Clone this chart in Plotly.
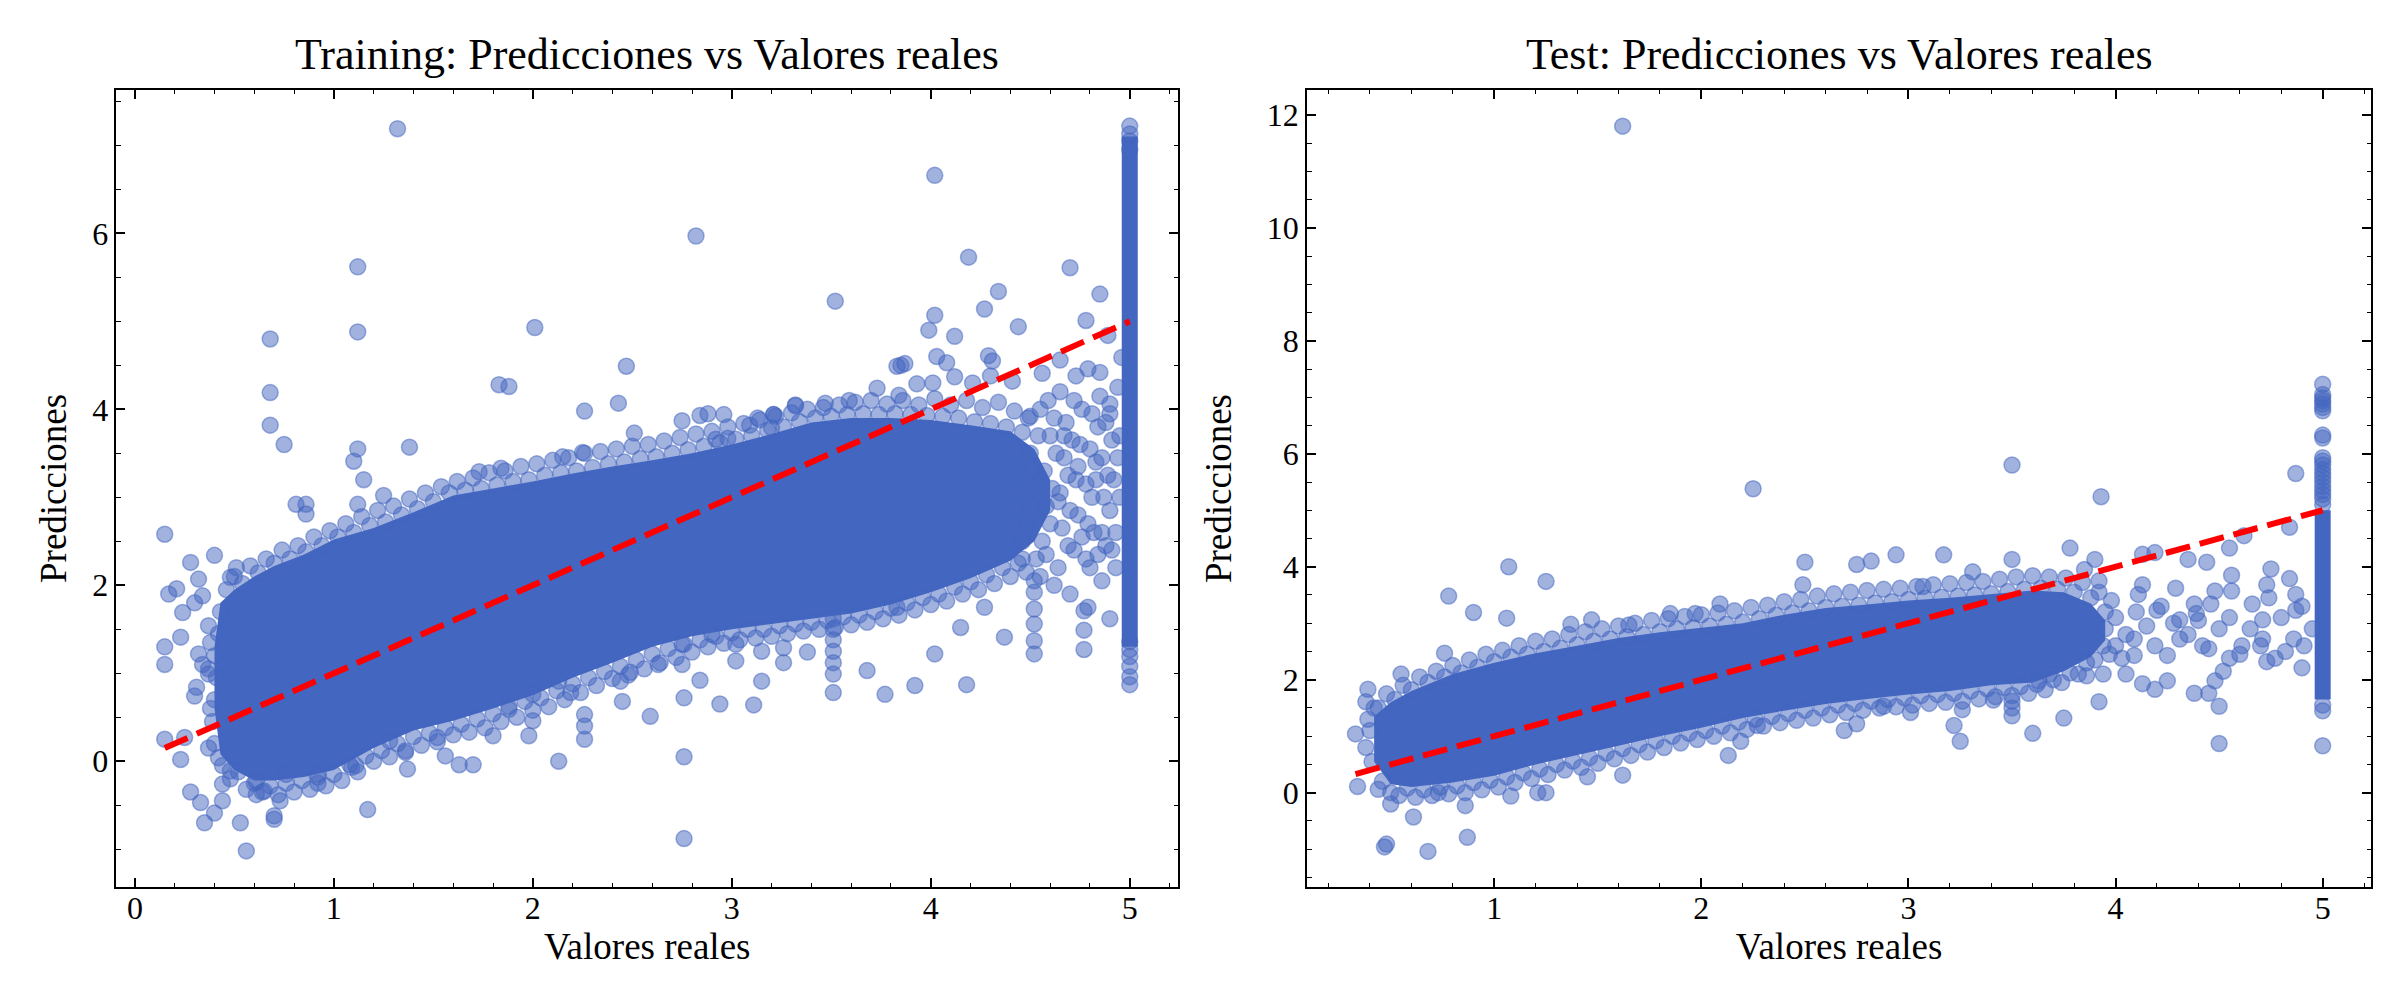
import plotly.graph_objects as go

BLUE = "#4366c0"
BLUE_A = "rgba(67,102,192,0.5)"
FONT = "Liberation Serif"

# ---------------- Training: values ----------------
# dense core of the cloud (where the overlapping points turn solid)
train_band_x = [0.40, 0.43, 0.50, 0.60, 0.70, 0.85, 1.00, 1.20, 1.40, 1.60, 1.80, 2.00, 2.20,
                2.40, 2.60, 2.80, 3.00, 3.20, 3.40, 3.60, 3.80, 4.00, 4.20, 4.40, 4.52, 4.60]
train_band_hi = [1.30, 1.80, 1.95, 2.10, 2.22, 2.35, 2.52, 2.65, 2.83, 3.02, 3.10, 3.18, 3.27,
                 3.35, 3.42, 3.50, 3.60, 3.72, 3.85, 3.90, 3.90, 3.88, 3.82, 3.75, 3.55, 3.20]
train_band_lo = [0.60, 0.08, -0.10, -0.22, -0.22, -0.18, -0.10, 0.15, 0.35, 0.46, 0.60, 0.75, 0.95,
                 1.12, 1.30, 1.42, 1.50, 1.56, 1.62, 1.68, 1.78, 1.92, 2.08, 2.28, 2.50, 2.85]

train_outliers = [
    (1.32, 7.19), (4.02, 6.66), (2.82, 5.97), (4.19, 5.73), (1.12, 5.62), (4.70, 5.61),
    (4.34, 5.34), (4.85, 5.31), (3.52, 5.23), (4.27, 5.14), (4.02, 5.07), (4.78, 5.01),
    (4.44, 4.94), (2.01, 4.93), (3.99, 4.90), (1.12, 4.88), (4.89, 4.84), (4.12, 4.83),
    (0.68, 4.80), (4.03, 4.60), (4.96, 4.59), (4.29, 4.61), (4.31, 4.55), (4.08, 4.53),
    (3.85, 4.50), (3.87, 4.52), (3.83, 4.49), (2.47, 4.49), (1.83, 4.28), (1.88, 4.26),
    (0.68, 4.19), (2.43, 4.07), (2.26, 3.98), (0.68, 3.82), (0.75, 3.60), (1.38, 3.57),
    (1.12, 3.55), (1.10, 3.41), (1.15, 3.20), (1.25, 3.02), (2.84, 3.93), (2.96, 3.94),
    (3.21, 3.94), (3.32, 4.04), (2.51, 3.73), (1.73, 3.29), (1.84, 3.33), (2.15, 3.46),
    (2.25, 3.51), (2.75, 3.87), (0.81, 2.92), (0.86, 2.92), (1.12, 2.92),
    (3.73, 4.24), (3.93, 4.29), (3.84, 4.16), (4.01, 4.30), (4.12, 4.37), (4.21, 4.30),
    (4.30, 4.38), (4.41, 4.32), (4.56, 4.41), (4.65, 4.56), (4.73, 4.38), (4.79, 4.46),
    (4.85, 4.42), (4.94, 4.25), (4.90, 4.06), (3.47, 4.07), (3.59, 4.10), (3.32, 4.05),
    (3.21, 3.94), (3.13, 3.90), (3.09, 3.82), (3.20, 3.79), (2.88, 3.95), (2.98, 3.67),
    (2.92, 3.66),
]
train_upper_ring = [
    (0.46, 1.95), (0.50, 2.10), (0.54, 2.02), (0.58, 2.22), (0.62, 2.14), (0.66, 2.30),
    (0.70, 2.25), (0.74, 2.40), (0.78, 2.30), (0.82, 2.45), (0.86, 2.38), (0.90, 2.55),
    (0.94, 2.45), (0.98, 2.62), (1.02, 2.55), (1.06, 2.70), (1.10, 2.60), (1.14, 2.78),
    (1.18, 2.68), (1.22, 2.85), (1.26, 2.72), (1.30, 2.90), (1.34, 2.80), (1.38, 2.98),
    (1.42, 2.87), (1.46, 3.05), (1.50, 2.95), (1.54, 3.12), (1.58, 3.05), (1.62, 3.18),
    (1.66, 3.08), (1.70, 3.22), (1.74, 3.10), (1.78, 3.28), (1.82, 3.14), (1.86, 3.30),
    (1.90, 3.18), (1.94, 3.35), (1.98, 3.20), (2.02, 3.38), (2.06, 3.25), (2.10, 3.42),
    (2.14, 3.28), (2.18, 3.45), (2.22, 3.30), (2.26, 3.50), (2.30, 3.34), (2.34, 3.52),
    (2.38, 3.38), (2.42, 3.55), (2.46, 3.40), (2.50, 3.58), (2.54, 3.44), (2.58, 3.60),
    (2.62, 3.46), (2.66, 3.64), (2.70, 3.50), (2.74, 3.68), (2.78, 3.54), (2.82, 3.72),
    (2.86, 3.58), (2.90, 3.75), (2.94, 3.62), (2.98, 3.80), (3.02, 3.66), (3.06, 3.84),
    (3.10, 3.70), (3.14, 3.88), (3.18, 3.76), (3.22, 3.92), (3.26, 3.80), (3.30, 3.96),
    (3.34, 3.86), (3.38, 4.00), (3.42, 3.90), (3.46, 4.02), (3.50, 3.92), (3.54, 4.05),
    (3.58, 3.94), (3.62, 4.08), (3.66, 3.95), (3.70, 4.10), (3.74, 3.94), (3.78, 4.06),
    (3.82, 3.95), (3.86, 4.10), (3.90, 3.94), (3.94, 4.05), (3.98, 3.93), (4.02, 4.12),
    (4.06, 3.92), (4.10, 4.05), (4.14, 3.90), (4.18, 4.10), (4.22, 3.86), (4.26, 4.02),
    (4.30, 3.84), (4.34, 4.08), (4.38, 3.80), (4.42, 3.98), (4.46, 3.74), (4.50, 3.92),
]
train_lower_ring = [
    (0.44, -0.05), (0.48, -0.20), (0.52, -0.12), (0.56, -0.32), (0.60, -0.25), (0.64, -0.35),
    (0.68, -0.28), (0.72, -0.38), (0.76, -0.25), (0.80, -0.35), (0.84, -0.22), (0.88, -0.32),
    (0.92, -0.18), (0.96, -0.28), (1.00, -0.15), (1.04, -0.22), (1.08, -0.04), (1.12, -0.12),
    (1.16, 0.06), (1.20, 0.00), (1.24, 0.12), (1.28, 0.05), (1.32, 0.20), (1.36, 0.10),
    (1.40, 0.28), (1.44, 0.18), (1.48, 0.32), (1.52, 0.22), (1.56, 0.38), (1.60, 0.30),
    (1.64, 0.42), (1.68, 0.33), (1.72, 0.48), (1.76, 0.38), (1.80, 0.54), (1.84, 0.45),
    (1.88, 0.62), (1.92, 0.50), (1.96, 0.68), (2.00, 0.58), (2.04, 0.72), (2.08, 0.62),
    (2.12, 0.80), (2.16, 0.70), (2.20, 0.88), (2.24, 0.78), (2.28, 0.95), (2.32, 0.86),
    (2.36, 1.02), (2.40, 0.94), (2.44, 1.08), (2.48, 0.98), (2.52, 1.15), (2.56, 1.05),
    (2.60, 1.22), (2.64, 1.12), (2.68, 1.28), (2.72, 1.18), (2.76, 1.33), (2.80, 1.24),
    (2.84, 1.38), (2.88, 1.30), (2.92, 1.42), (2.96, 1.34), (3.00, 1.46), (3.04, 1.38),
    (3.08, 1.50), (3.12, 1.40), (3.16, 1.50), (3.20, 1.42), (3.24, 1.54), (3.28, 1.45),
    (3.32, 1.56), (3.36, 1.48), (3.40, 1.58), (3.44, 1.50), (3.48, 1.60), (3.52, 1.52),
    (3.56, 1.64), (3.60, 1.55), (3.64, 1.66), (3.68, 1.58), (3.72, 1.70), (3.76, 1.62),
    (3.80, 1.74), (3.84, 1.66), (3.88, 1.80), (3.92, 1.72), (3.96, 1.86), (4.00, 1.78),
    (4.04, 1.90), (4.08, 1.82), (4.12, 1.98), (4.16, 1.90), (4.20, 2.04), (4.24, 1.95),
    (4.28, 2.12), (4.32, 2.02), (4.36, 2.20), (4.40, 2.10), (4.44, 2.25), (4.48, 2.15),
    (0.40, 0.20), (0.39, 0.45), (0.40, 0.70), (0.41, 0.95), (0.40, 1.20), (0.42, 1.45),
    (0.43, 1.70), (0.38, 0.60), (0.37, 1.05), (0.38, 1.35),
]
train_sparse_low = [
    (0.15, 2.58), (0.17, 1.90), (0.21, 1.96), (0.28, 2.26), (0.40, 2.34), (0.15, 1.30),
    (0.15, 1.10), (0.23, 1.41), (0.24, 1.69), (0.30, 1.80), (0.15, 0.25), (0.25, 0.27),
    (0.23, 0.02), (0.28, -0.35), (0.33, -0.47), (0.35, -0.70), (0.40, -0.59), (0.44, -0.45),
    (0.53, -0.70), (0.56, -1.02), (0.70, -0.66), (0.70, -0.62), (0.61, -0.38), (0.73, -0.45),
    (1.17, -0.55), (1.37, -0.09), (0.92, -0.25), (1.09, -0.07), (1.63, -0.04), (1.70, -0.04),
    (2.13, 0.00), (2.76, 0.05), (2.76, -0.88), (2.76, 0.72), (2.94, 0.65), (3.11, 0.64),
    (2.59, 0.51), (2.45, 0.68), (2.26, 0.25), (2.26, 0.40), (2.26, 0.53), (2.00, 0.46),
    (1.98, 0.29), (1.80, 0.29), (1.88, 0.59), (2.84, 0.92), (3.15, 0.91), (3.38, 1.24),
    (3.51, 0.78), (3.68, 1.03), (3.77, 0.76), (3.92, 0.86), (4.18, 0.87), (4.02, 1.22),
    (4.37, 1.41), (4.52, 1.22), (4.52, 1.37), (4.52, 1.56), (4.52, 1.73), (4.52, 1.92),
    (4.77, 1.27), (4.77, 1.49), (4.77, 1.71), (4.90, 1.62), (4.79, 1.75), (4.27, 1.75),
    (4.15, 1.52), (3.83, 1.75), (3.51, 0.99), (3.51, 1.12), (3.51, 1.25), (3.51, 1.38),
    (3.51, 1.50), (3.51, 1.62), (3.26, 1.12), (3.26, 1.29), (3.02, 1.14), (3.02, 1.33),
    (3.15, 1.25), (2.90, 1.44), (2.75, 1.10), (2.75, 1.33), (2.63, 1.10), (2.44, 0.91),
    (2.49, 1.01), (2.13, 0.91), (2.19, 0.78), (2.00, 0.76), (1.52, 0.27), (1.56, 0.06),
    (1.36, 0.12), (1.28, 0.23), (1.11, -0.05), (0.92, -0.15), (0.76, -0.15), (0.65, -0.34),
    (0.61, -0.23), (0.48, -0.11), (0.44, -0.26), (0.42, 0.04), (0.37, 0.15), (0.31, 0.84),
    (0.30, 0.74), (0.37, 0.99), (0.34, 1.10), (0.32, 1.22), (0.37, 1.54), (0.34, 1.88),
    (0.32, 2.07), (0.48, 2.09), (0.51, 2.20), (0.86, 2.81),
]
train_far_right = [
    (4.46, 2.30), (4.48, 2.70), (4.47, 3.10), (4.50, 3.50), (4.49, 3.90), (4.55, 2.10),
    (4.56, 2.50), (4.58, 2.90), (4.57, 3.30), (4.60, 3.70), (4.59, 4.10), (4.64, 2.20),
    (4.66, 2.65), (4.65, 3.05), (4.67, 3.45), (4.68, 3.85), (4.72, 2.40), (4.74, 2.80),
    (4.73, 3.20), (4.75, 3.60), (4.76, 4.00), (4.80, 2.20), (4.82, 2.60), (4.81, 3.00),
    (4.83, 3.40), (4.84, 3.80), (4.88, 2.45), (4.90, 2.85), (4.89, 3.25), (4.91, 3.65),
    (4.93, 2.20), (4.95, 3.00), (4.94, 3.45), (4.62, 2.00), (4.70, 1.90), (4.86, 2.05),
    (4.52, 2.05), (4.46, 2.50), (4.50, 2.90), (4.51, 3.30), (4.54, 3.70), (4.53, 2.30),
    (4.60, 2.70), (4.61, 3.10), (4.63, 3.50), (4.62, 3.90), (4.69, 2.45), (4.70, 2.85),
    (4.69, 3.25), (4.71, 3.65), (4.72, 4.10), (4.78, 2.30), (4.79, 2.70), (4.78, 3.15),
    (4.80, 3.55), (4.81, 3.95), (4.86, 2.60), (4.87, 3.00), (4.86, 3.45), (4.88, 3.85),
    (4.93, 2.60), (4.92, 3.20), (4.95, 3.70), (4.55, 4.00), (4.65, 4.20), (4.85, 4.15),
    (4.58, 2.35), (4.64, 2.95), (4.67, 3.70), (4.76, 2.55), (4.74, 3.35), (4.84, 2.35),
    (4.83, 3.20), (4.91, 2.40), (4.90, 3.95),
]
# capped target column at 5.0
train_cap_y = [0.87, 0.96, 1.08, 1.19, 1.27, 1.36, 6.95, 7.05, 7.13, 7.22]
train_cap_solid = [1.30, 7.10]
train_min, train_max = 0.15, 5.0

# ---------------- Test: values ----------------
test_band_x = [0.42, 0.50, 0.60, 0.80, 1.00, 1.20, 1.40, 1.60, 1.80, 2.00,
               2.20, 2.40, 2.60, 2.80, 3.00, 3.20, 3.40, 3.60, 3.75, 3.88, 3.95]
test_band_hi = [1.35, 1.60, 1.80, 2.10, 2.30, 2.47, 2.60, 2.74, 2.84, 2.92,
                3.00, 3.15, 3.27, 3.33, 3.40, 3.45, 3.52, 3.58, 3.55, 3.35, 3.05]
test_band_lo = [0.55, 0.15, 0.10, 0.18, 0.30, 0.50, 0.66, 0.83, 1.00, 1.15,
                1.32, 1.45, 1.57, 1.66, 1.74, 1.80, 1.90, 1.95, 2.15, 2.40, 2.70]

test_scatter = [
    (1.62, 11.80), (2.25, 5.38), (3.50, 5.80), (3.93, 5.24), (4.87, 5.65), (4.84, 4.70),
    (4.55, 4.33), (4.62, 4.55), (4.35, 4.13), (4.44, 4.08), (4.19, 4.25), (4.13, 4.22),
    (3.78, 4.33), (3.90, 4.13), (3.17, 4.21), (2.94, 4.21), (2.82, 4.10), (2.75, 4.04),
    (2.50, 4.08), (2.49, 3.68), (3.07, 3.65), (3.50, 4.13), (3.31, 3.91), (1.07, 4.00),
    (1.25, 3.74), (0.78, 3.48), (0.90, 3.19), (1.06, 3.09), (1.37, 2.98), (1.47, 3.06),
    (1.65, 2.97), (1.85, 3.17), (1.97, 3.17), (2.09, 3.34), (0.76, 2.47), (0.55, 2.10),
    (0.39, 1.83), (0.38, 1.61), (0.33, 1.04), (0.34, 0.11), (0.44, 0.06), (0.50, -0.20),
    (0.61, -0.43), (0.48, -0.91), (0.47, -0.96), (0.68, -1.04), (0.87, -0.79), (0.86, -0.23),
    (0.73, 0.00), (1.08, -0.06), (1.21, 0.00), (1.25, 0.00), (1.45, 0.28), (1.62, 0.31),
    (2.13, 0.66), (2.19, 0.91), (2.27, 1.19), (2.69, 1.10), (2.75, 1.22), (2.88, 1.53),
    (3.01, 1.42), (3.22, 1.19), (3.25, 0.91), (3.26, 1.47), (3.41, 1.64), (3.50, 1.36),
    (3.60, 1.05), (3.75, 1.32), (3.92, 1.61), (4.50, 0.87), (4.50, 1.53), (4.38, 1.76),
    (4.45, 1.76), (4.25, 1.98), (4.13, 1.93), (4.19, 1.83), (4.05, 2.10), (3.94, 2.10),
    (3.86, 2.07), (3.68, 2.10), (3.63, 1.98), (4.55, 2.38), (4.48, 1.98), (4.52, 2.15),
    (4.61, 2.60), (4.42, 2.60), (4.25, 2.43), (4.31, 2.72), (4.73, 2.32), (4.77, 2.38),
    (4.71, 2.72), (4.71, 3.06), (4.74, 3.45), (4.73, 3.68), (4.75, 3.96), (4.84, 3.79),
    (4.87, 3.51), (4.87, 3.23), (4.91, 2.60), (4.90, 2.21), (4.86, 2.72), (4.66, 3.34),
    (4.56, 3.85), (4.56, 3.57), (4.48, 3.57), (4.46, 3.34), (4.29, 3.62), (4.38, 3.34),
    (4.39, 3.17), (4.31, 3.06), (4.20, 3.23), (4.11, 3.51), (4.13, 3.68), (4.09, 2.72),
    (4.00, 2.60), (4.03, 2.38), (4.19, 2.60), (4.09, 2.43), (3.50, 1.50), (3.50, 1.62),
    (3.95, 2.90), (4.00, 3.10), (4.05, 2.80), (4.10, 3.20), (4.15, 2.95), (4.22, 3.30),
    (4.28, 3.00), (4.35, 2.80), (4.40, 3.05), (4.45, 2.55), (4.50, 2.90), (4.55, 3.10),
    (4.60, 2.45), (4.65, 2.90), (4.70, 2.60), (4.80, 3.10), (4.82, 2.50), (4.90, 3.30),
    (4.95, 2.90), (3.98, 3.40), (3.92, 3.75), (3.85, 3.95), (3.97, 2.45),
]
test_upper_ring = [
    (0.44, 1.50), (0.48, 1.75), (0.52, 1.65), (0.56, 1.90), (0.60, 1.82), (0.64, 2.05),
    (0.68, 1.95), (0.72, 2.15), (0.76, 2.05), (0.80, 2.25), (0.84, 2.12), (0.88, 2.35),
    (0.92, 2.22), (0.96, 2.45), (1.00, 2.32), (1.04, 2.52), (1.08, 2.40), (1.12, 2.60),
    (1.16, 2.45), (1.20, 2.68), (1.24, 2.50), (1.28, 2.72), (1.32, 2.56), (1.36, 2.80),
    (1.40, 2.62), (1.44, 2.85), (1.48, 2.68), (1.52, 2.90), (1.56, 2.72), (1.60, 2.95),
    (1.64, 2.76), (1.68, 3.00), (1.72, 2.80), (1.76, 3.05), (1.80, 2.85), (1.84, 3.08),
    (1.88, 2.90), (1.92, 3.12), (1.96, 2.92), (2.00, 3.15), (2.04, 2.95), (2.08, 3.18),
    (2.12, 2.98), (2.16, 3.22), (2.20, 3.02), (2.24, 3.28), (2.28, 3.08), (2.32, 3.32),
    (2.36, 3.14), (2.40, 3.38), (2.44, 3.18), (2.48, 3.42), (2.52, 3.22), (2.56, 3.48),
    (2.60, 3.28), (2.64, 3.52), (2.68, 3.30), (2.72, 3.55), (2.76, 3.32), (2.80, 3.58),
    (2.84, 3.36), (2.88, 3.60), (2.92, 3.38), (2.96, 3.62), (3.00, 3.42), (3.04, 3.65),
    (3.08, 3.44), (3.12, 3.68), (3.16, 3.46), (3.20, 3.70), (3.24, 3.48), (3.28, 3.72),
    (3.32, 3.50), (3.36, 3.74), (3.40, 3.52), (3.44, 3.78), (3.48, 3.56), (3.52, 3.82),
    (3.56, 3.60), (3.60, 3.84), (3.64, 3.62), (3.68, 3.82), (3.72, 3.60), (3.76, 3.80),
    (3.80, 3.55), (3.84, 3.72), (3.88, 3.45), (3.92, 3.55), (3.95, 3.20),
]
test_lower_ring = [
    (0.46, 0.20), (0.50, 0.00), (0.54, -0.05), (0.58, 0.08), (0.62, -0.08), (0.66, 0.05),
    (0.70, -0.05), (0.74, 0.10), (0.78, -0.02), (0.82, 0.12), (0.86, 0.00), (0.90, 0.18),
    (0.94, 0.05), (0.98, 0.22), (1.02, 0.10), (1.06, 0.28), (1.10, 0.18), (1.14, 0.35),
    (1.18, 0.25), (1.22, 0.42), (1.26, 0.32), (1.30, 0.50), (1.34, 0.40), (1.38, 0.56),
    (1.42, 0.45), (1.46, 0.62), (1.50, 0.52), (1.54, 0.70), (1.58, 0.60), (1.62, 0.78),
    (1.66, 0.66), (1.70, 0.85), (1.74, 0.72), (1.78, 0.92), (1.82, 0.80), (1.86, 1.00),
    (1.90, 0.88), (1.94, 1.05), (1.98, 0.94), (2.02, 1.10), (2.06, 1.00), (2.10, 1.18),
    (2.14, 1.06), (2.18, 1.25), (2.22, 1.12), (2.26, 1.30), (2.30, 1.18), (2.34, 1.35),
    (2.38, 1.24), (2.42, 1.40), (2.46, 1.28), (2.50, 1.46), (2.54, 1.32), (2.58, 1.50),
    (2.62, 1.38), (2.66, 1.55), (2.70, 1.42), (2.74, 1.58), (2.78, 1.46), (2.82, 1.62),
    (2.86, 1.50), (2.90, 1.65), (2.94, 1.52), (2.98, 1.68), (3.02, 1.55), (3.06, 1.72),
    (3.10, 1.58), (3.14, 1.74), (3.18, 1.60), (3.22, 1.76), (3.26, 1.62), (3.30, 1.80),
    (3.34, 1.66), (3.38, 1.84), (3.42, 1.70), (3.46, 1.86), (3.50, 1.72), (3.54, 1.88),
    (3.58, 1.76), (3.62, 1.92), (3.66, 1.82), (3.70, 2.00), (3.74, 1.95), (3.78, 2.12),
    (3.82, 2.10), (3.86, 2.30), (3.90, 2.35), (3.94, 2.60), (0.38, 0.80), (0.40, 1.10),
    (0.39, 1.30), (0.41, 0.55), (0.42, 1.50),
]
test_cap_y = [0.83, 1.45, 1.55, 5.10, 5.20, 5.28, 5.35, 5.42, 5.50, 5.58, 5.65, 5.72,
              5.80, 5.87, 5.93, 6.28, 6.33, 6.76, 6.82, 6.88, 6.94, 6.99, 7.05, 7.23]
test_cap_solid = [1.65, 5.00]
test_min, test_max = 0.33, 5.0


def split(pairs):
    return [p[0] for p in pairs], [p[1] for p in pairs]


fig = go.Figure()


def add_panel(xa, ya, band_x, band_hi, band_lo, point_lists, cap_y, cap_solid, vmin, vmax):
    # solid core of the cloud
    fig.add_trace(go.Scatter(
        x=band_x + band_x[::-1], y=band_hi + band_lo[::-1],
        fill="toself", fillcolor=BLUE, mode="lines", line=dict(width=0),
        xaxis=xa, yaxis=ya, hoverinfo="skip", showlegend=False))
    # saturated column at the 5.0 cap
    fig.add_trace(go.Scatter(
        x=[5.0, 5.0], y=cap_solid, mode="lines", line=dict(color=BLUE, width=16),
        xaxis=xa, yaxis=ya, hoverinfo="skip", showlegend=False))
    xs, ys = [], []
    for pts in point_lists:
        px_, py_ = split(pts)
        xs += px_
        ys += py_
    xs += [5.0] * len(cap_y)
    ys += cap_y
    fig.add_trace(go.Scatter(
        x=xs, y=ys, mode="markers",
        marker=dict(size=16, color=BLUE_A, line=dict(color=BLUE_A, width=1.5)),
        xaxis=xa, yaxis=ya, showlegend=False))
    fig.add_trace(go.Scatter(
        x=[vmin, vmax], y=[vmin, vmax], mode="lines",
        line=dict(color="red", width=6, dash="25px,10px"),
        xaxis=xa, yaxis=ya, showlegend=False))


add_panel("x", "y", train_band_x, train_band_hi, train_band_lo,
          [train_outliers, train_upper_ring, train_lower_ring, train_sparse_low, train_far_right],
          train_cap_y, train_cap_solid, train_min, train_max)
add_panel("x2", "y2", test_band_x, test_band_hi, test_band_lo,
          [test_scatter, test_upper_ring, test_lower_ring],
          test_cap_y, test_cap_solid, test_min, test_max)


def axis(domain, rng, dtick, minor, title, anchor, standoff, label_shift):
    return dict(
        domain=domain, range=rng, dtick=dtick, anchor=anchor,
        showline=True, linecolor="black", linewidth=1.8, mirror="ticks",
        ticks="inside", ticklen=9, tickwidth=1.5, tickcolor="black",
        minor=dict(ticks="inside", ticklen=4.5, tickwidth=1.2, tickcolor="black", dtick=minor),
        showgrid=False, zeroline=False, ticklabelstandoff=label_shift,
        tickfont=dict(family=FONT, size=32, color="black"),
        title=dict(text=title, font=dict(family=FONT, size=37, color="black"), standoff=standoff),
    )


fig.update_layout(
    width=2400, height=1000,
    margin=dict(l=0, r=0, t=0, b=0),
    paper_bgcolor="white", plot_bgcolor="white",
    xaxis=axis([0.0452, 0.4875], [-0.0925, 5.2425], 1, 0.2, "Valores reales", "y", 6, -8),
    yaxis=axis([0.121, 0.918], [-1.43, 7.63], 2, 0.5, "Predicciones", "x", 14, 0),
    xaxis2=axis([0.5413, 0.9846], [0.0965, 5.2335], 1, 0.2, "Valores reales", "y2", 6, -8),
    yaxis2=axis([0.121, 0.918], [-1.67, 12.44], 2, 0.5, "Predicciones", "x2", 24, 0),
    annotations=[
        dict(text="Training: Predicciones vs Valores reales", x=(0.0452 + 0.4875) / 2, y=0.927,
             xref="paper", yref="paper", xanchor="center", yanchor="bottom", showarrow=False,
             font=dict(family=FONT, size=44, color="black")),
        dict(text="Test: Predicciones vs Valores reales", x=(0.5413 + 0.9846) / 2, y=0.927,
             xref="paper", yref="paper", xanchor="center", yanchor="bottom", showarrow=False,
             font=dict(family=FONT, size=44, color="black")),
    ],
)

fig.write_html("out.html")
